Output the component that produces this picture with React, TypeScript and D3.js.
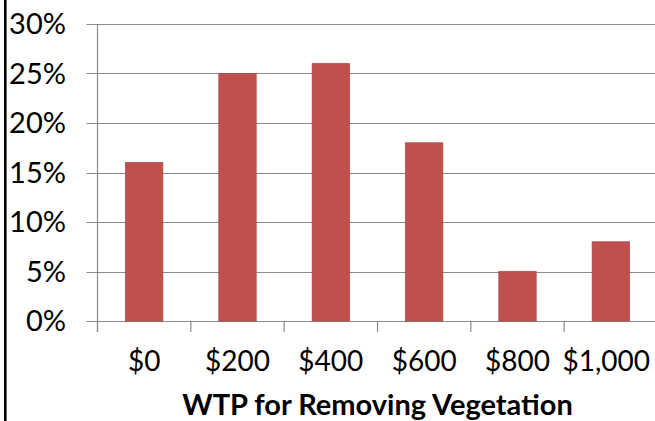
import React, { useEffect, useRef } from 'react'
import * as d3 from 'd3'

const categories = ['$0', '$200', '$400', '$600', '$800', '$1,000']
const shares = [16, 25, 26, 18, 5, 8]
const yTicks = [0, 5, 10, 15, 20, 25, 30]
const xTitle = 'WTP for Removing Vegetation'

export default function App() {
  const svgRef = useRef<SVGSVGElement | null>(null)

  useEffect(() => {
    const svg = d3.select(svgRef.current)
    svg.selectAll('*').remove()

    const width = 655
    const height = 421
    const left = 97.5
    const right = 657.5
    const top = 24
    const bottom = 321
    const font = 'Lato, Calibri, "Open Sans", sans-serif'
    const gridColor = '#8a8a8a'

    const x = d3
      .scaleBand()
      .domain(categories)
      .range([left, right])
      .paddingInner(0.6)
      .paddingOuter(0.3)

    const y = d3.scaleLinear().domain([0, 30]).range([bottom, top])

    svg.attr('width', width).attr('height', height)

    // frame line on the left
    svg
      .append('line')
      .attr('x1', 5.3)
      .attr('x2', 5.3)
      .attr('y1', 0)
      .attr('y2', height)
      .attr('stroke', '#000')
      .attr('stroke-width', 2.6)

    // horizontal gridlines + outward ticks
    svg
      .append('g')
      .selectAll('line')
      .data(yTicks)
      .enter()
      .append('line')
      .attr('x1', left - 11)
      .attr('x2', width)
      .attr('y1', (d) => Math.round(y(d)) + 0.5)
      .attr('y2', (d) => Math.round(y(d)) + 0.5)
      .attr('stroke', gridColor)
      .attr('stroke-width', 1.2)

    // y axis line
    svg
      .append('line')
      .attr('x1', left)
      .attr('x2', left)
      .attr('y1', y(30))
      .attr('y2', bottom + 11)
      .attr('stroke', gridColor)
      .attr('stroke-width', 1.2)

    // category ticks on x axis
    const step = x.step()
    svg
      .append('g')
      .selectAll('line')
      .data(categories)
      .enter()
      .append('line')
      .attr('x1', (d) => x(d)! - step * 0.3)
      .attr('x2', (d) => x(d)! - step * 0.3)
      .attr('y1', bottom)
      .attr('y2', bottom + 11)
      .attr('stroke', gridColor)
      .attr('stroke-width', 1.2)

    // bars
    svg
      .append('g')
      .selectAll('rect')
      .data(shares)
      .enter()
      .append('rect')
      .attr('x', (d, i) => x(categories[i])!)
      .attr('y', (d) => y(d))
      .attr('width', x.bandwidth())
      .attr('height', (d) => bottom - y(d))
      .attr('fill', '#c0504d')
      .attr('stroke', '#b04a47')
      .attr('stroke-width', 0.8)

    // y tick labels
    svg
      .append('g')
      .selectAll('text')
      .data(yTicks)
      .enter()
      .append('text')
      .attr('x', 66)
      .attr('y', (d) => y(d))
      .attr('dy', '0.36em')
      .attr('text-anchor', 'end')
      .attr('font-family', font)
      .attr('font-size', 29)
      .attr('fill', '#000')
      .text((d) => `${d}%`)

    // x tick labels (pulled in if they would run past the edge)
    svg
      .append('g')
      .selectAll('text')
      .data(categories)
      .enter()
      .append('text')
      .attr('x', (d) => x(d)! + x.bandwidth() / 2)
      .attr('y', 371)
      .attr('text-anchor', 'middle')
      .attr('font-family', font)
      .attr('font-size', 28)
      .attr('fill', '#000')
      .text((d) => d)
      .each(function (d) {
        const box = (this as SVGTextElement).getBBox()
        const over = box.x + box.width - (width - 5)
        if (over > 0) {
          d3.select(this).attr('x', x(d)! + x.bandwidth() / 2 - over)
        }
      })

    // axis title
    svg
      .append('text')
      .attr('x', (left + right) / 2)
      .attr('y', 415)
      .attr('text-anchor', 'middle')
      .attr('font-family', font)
      .attr('font-size', 29)
      .attr('font-weight', 'bold')
      .attr('fill', '#000')
      .text(xTitle)
  }, [])

  return (
    <svg
      ref={svgRef}
      style={{ position: 'absolute', left: 0, top: 0, background: '#fff' }}
    ></svg>
  )
}
